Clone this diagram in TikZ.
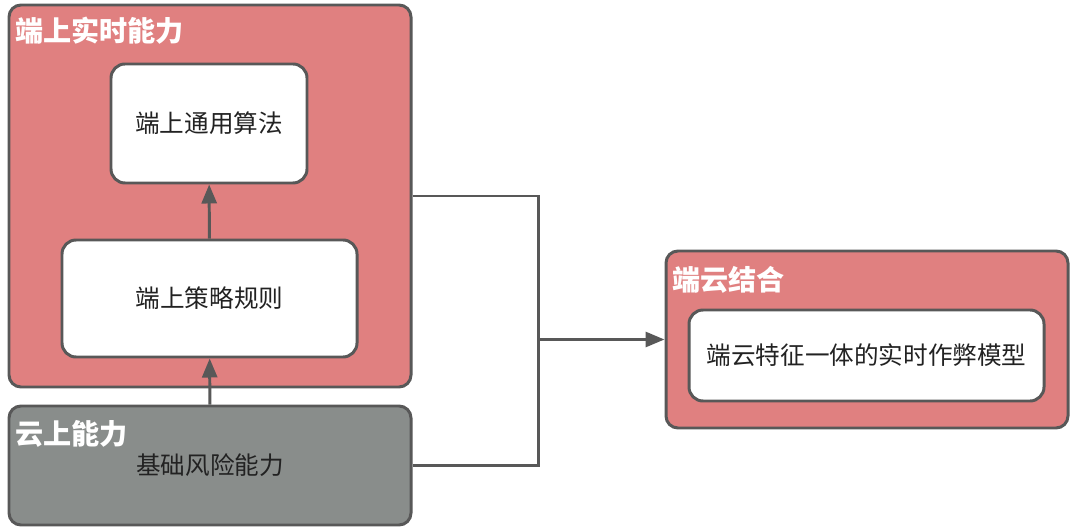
\documentclass[tikz,border=0pt]{standalone}
\usepackage{fontspec}
\setmainfont{Noto Sans CJK SC}
\usepackage{tikz}
\usepackage{xcolor}
\usetikzlibrary{calc, arrows.meta, positioning}

\definecolor{boxred}{RGB}{224,128,128}
\definecolor{boxgray}{RGB}{137,141,139}
\definecolor{edgegray}{RGB}{88,88,88}
\definecolor{txtdark}{RGB}{34,34,34}

\begin{document}
\begin{tikzpicture}[>={Triangle[length=0.38cm,width=0.3cm]},
  panel/.style={draw=edgegray, line width=1.7pt, rounded corners=0.24cm, inner sep=0pt},
  card/.style={draw=edgegray, line width=1.7pt, fill=white, rounded corners=0.28cm,
    inner sep=0pt, font=\fontsize{14}{16}\selectfont, text=txtdark},
  ptitle/.style={anchor=west, inner sep=0pt, text=white, font=\fontsize{16}{18}\selectfont\bfseries},
  link/.style={draw=edgegray, line width=1.7pt}]
  \useasboundingbox (0,0) rectangle (21.6,10.62);
  % left column: real-time on device
  \node[panel, fill=boxred, minimum width=8.04cm, minimum height=7.64cm] (rt) at (4.2,6.70) {};
  \node[ptitle] (rtlbl) at (0.3,10.0) {端上实时能力};
  \node[card, minimum width=3.92cm, minimum height=2.38cm] (alg) at (4.18,8.15) {端上通用算法};
  \node[card, minimum width=5.9cm, minimum height=2.34cm] (rule) at (4.19,4.65) {端上策略规则};
  % cloud panel
  \node[panel, fill=boxgray, minimum width=8.04cm, minimum height=2.38cm,
    font=\fontsize{14}{16}\selectfont, text=txtdark] (cloud) at (4.2,1.31) {基础风险能力};
  \node[ptitle] (cloudlbl) at (0.3,1.94) {云上能力};
  % right: combined
  \node[panel, fill=boxred, minimum width=8.04cm, minimum height=3.54cm] (comb) at (17.34,3.83) {};
  \node[ptitle] (comblbl) at (13.44,5.02) {端云结合};
  \node[card, minimum width=7.1cm, minimum height=1.82cm] (model) at (17.33,3.51) {端云特征一体的实时作弊模型};
  % arrows inside left column
  \draw[link, ->] (rule) -- (alg);
  \draw[link, ->] (cloud) -- (rule);
  % merge line and arrow to the right
  \coordinate (jn) at (10.76,0);
  \draw[link] (rt.east) -- (rt.east -| jn) -- (cloud.east -| jn) -- (cloud.east);
  \draw[link, ->] (comb.west -| jn) -- (comb.west);
\end{tikzpicture}
\end{document}
